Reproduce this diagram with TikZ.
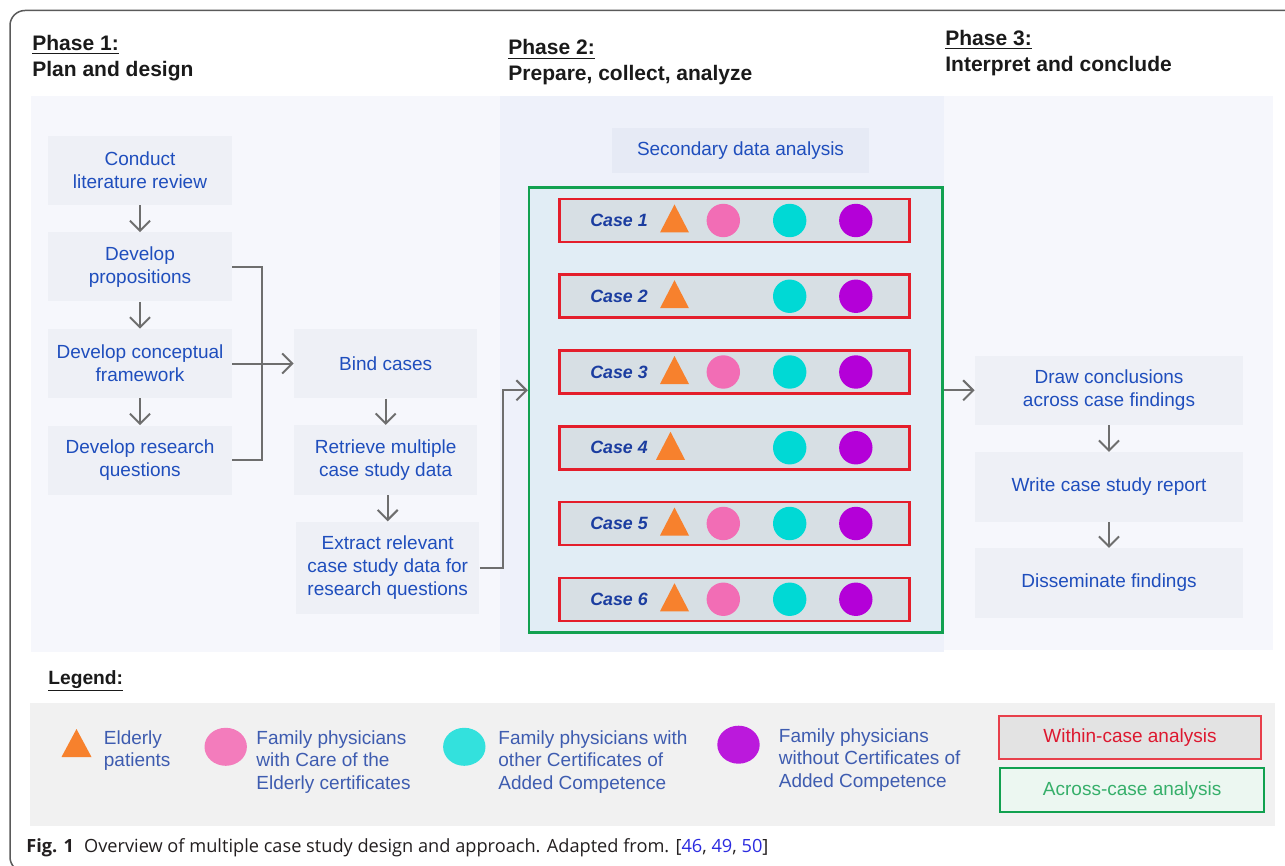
\documentclass[tikz,border=0pt]{standalone}
\usepackage{fontspec}
\setmainfont{Liberation Sans}
\newfontfamily\capfont{Open Sans}
\usetikzlibrary{arrows.meta}

\definecolor{txtblue}{HTML}{1F4EBD}
\definecolor{caseblue}{HTML}{1B3DA0}
\definecolor{legblue}{HTML}{3E5CB0}
\definecolor{headblack}{HTML}{1A1A1A}
\definecolor{framegray}{HTML}{5A5A5A}
\definecolor{arrgray}{HTML}{6E6E6E}
\definecolor{panelA}{HTML}{F6F7FC}
\definecolor{panelB}{HTML}{EEF1FA}
\definecolor{boxgray}{HTML}{EEF0F6}
\definecolor{secgray}{HTML}{E6EAF5}
\definecolor{acrossbg}{HTML}{E1EDF5}
\definecolor{rowgray}{HTML}{D7DFE4}
\definecolor{withinred}{HTML}{E41E2B}
\definecolor{acrossgreen}{HTML}{12A150}
\definecolor{elderly}{HTML}{F7812D}
\definecolor{famcoe}{HTML}{F26DB5}
\definecolor{famcac}{HTML}{00D9D5}
\definecolor{famnone}{HTML}{B400D8}
\definecolor{legbg}{HTML}{F1F1F1}
\definecolor{capgray}{HTML}{231F20}
\definecolor{citeblue}{HTML}{2B2BE0}

\tikzset{
  box/.style={fill=boxgray, text=txtblue, align=center, inner sep=0pt,
    font=\fontsize{9.5}{11.5}\selectfont},
  flow/.style={draw=arrgray, line width=1pt, -{Straight Barb[length=5pt,width=10pt]}},
  link/.style={draw=arrgray, line width=1pt},
  head/.style={anchor=base west, inner sep=0pt, text=headblack,
    font=\fontsize{10.5}{13}\selectfont\bfseries},
  caserow/.style={draw=withinred, fill=rowgray, line width=1.25pt, inner sep=0pt,
    minimum width=175pt, minimum height=21.5pt},
  casetxt/.style={inner sep=0pt, text=caseblue, font=\fontsize{8.9}{10}\selectfont\bfseries\itshape},
  legtext/.style={anchor=west, align=left, inner sep=0pt, text=legblue,
    font=\fontsize{9.5}{11.25}\selectfont},
}

\begin{document}
\begin{tikzpicture}[x=0.5pt, y=-0.5pt]
    \useasboundingbox[fill=white] (0,0) rectangle (1285,866);
    \draw[framegray, line width=0.75pt, rounded corners=7.5pt] (1285,10.5) -- (10,10.5) -- (10,872) -- (200,872);

    % phase panels
    \fill[panelA] (30.5,96) rectangle (500,652);
    \fill[panelB] (500,96) rectangle (944,652);
    \fill[panelA] (944,96) rectangle (1273,650);

    \node[head] (ph1) at (32,50.5) {\underline{Phase 1:}};
    \node[head] (ph1t) at (32,76.5) {Plan and design};
    \node[head] (ph2) at (508,55) {\underline{Phase 2:}};
    \node[head] (ph2t) at (508,81) {Prepare, collect, analyze};
    \node[head] (ph3) at (945,45.5) {\underline{Phase 3:}};
    \node[head] (ph3t) at (945,71.5) {Interpret and conclude};

    % phase 1
    \node[box, minimum width=91.7pt, minimum height=34.5pt] (lit) at (140,170.5) {Conduct\\literature review};
    \node[box, minimum width=91.7pt, minimum height=34.5pt] (prop) at (140,267) {Develop\\propositions};
    \node[box, minimum width=91.7pt, minimum height=34.5pt] (frame) at (140,363.5) {Develop conceptual\\framework};
    \node[box, minimum width=91.7pt, minimum height=34.5pt] (resq) at (140,460) {Develop research\\questions};
    \draw[flow] (lit) -- (prop);
    \draw[flow] (prop) -- (frame);
    \draw[flow] (frame) -- (resq);

    \node[box, minimum width=91.7pt, minimum height=34.7pt] (bind) at (385.7,363.5) {Bind cases};
    \node[box, minimum width=91.7pt, minimum height=34.7pt] (retr) at (385.7,460) {Retrieve multiple\\case study data};
    \node[box, minimum width=91.7pt, minimum height=46.3pt] (extr) at (387.7,568) {Extract relevant\\case study data for\\research questions};
    \draw[flow] (bind) -- (retr);
    \draw[flow] (retr.south -| extr) -- (extr);

    \draw[link] (prop.east) -- ++(30,0) |- (resq.east);
    \draw[flow] (frame) -- (bind);

    % phase 2
    \node[box, fill=secgray, minimum width=128.8pt, minimum height=22.8pt] (sec) at (740.5,150.5) {Secondary data analysis};
    \node[draw=acrossgreen, fill=acrossbg, line width=1.25pt, inner sep=0pt,
      minimum width=206.6pt, minimum height=222.3pt] (across) at (735.7,410) {};

    \foreach \n/\pk/\tx in {1/1/674.5, 2/0/674.5, 3/1/674.5, 4/0/670.5, 5/1/674.5, 6/1/674.5}{
      \pgfmathsetmacro\cy{220.5+75.75*(\n-1)}
      \node[caserow] (case\n) at (734.5,\cy) {};
      \node[casetxt] (case\n txt) at (619,\cy) {Case \n};
      \fill[elderly] (\tx-14.5,\cy+12) -- (\tx+14.5,\cy+12) -- (\tx,\cy-16) -- cycle;
      \ifnum\pk=1 \fill[famcoe] (723.3,\cy) circle (8.35pt); \fi
      \fill[famcac] (789.7,\cy) circle (8.35pt);
      \fill[famnone] (855.8,\cy) circle (8.35pt);
    }

    % phase 3
    \node[box, minimum width=134pt, minimum height=34.75pt] (conc) at (1109,390.3) {Draw conclusions\\across case findings};
    \node[box, minimum width=134pt, minimum height=34.75pt] (rep) at (1109,487) {Write case study report};
    \node[box, minimum width=134pt, minimum height=34.75pt] (diss) at (1109,583) {Disseminate findings};
    \draw[flow] (conc) -- (rep);
    \draw[flow] (rep) -- (diss);

    \draw[flow] (extr.east) -- ++(23,0) |- (across.west |- conc);
    \draw[flow] (across.east |- conc) -- (conc);

    % legend
    \node[head, font=\fontsize{9.6}{11}\selectfont\bfseries] (leg) at (48,684) {\underline{Legend:}};
    \fill[legbg] (30,703) rectangle (1275,826);
    \fill[elderly] (61.5,757) -- (91.5,757) -- (76.5,729) -- cycle;
    \node[legtext] (lgeld) at (103.5,750.5) {Elderly\\patients};
    \fill[famcoe!90!white] (225.7,746.8) ellipse [x radius=10.6pt, y radius=9.5pt];
    \node[legtext] (lgcoe) at (256,761.8) {Family physicians\\with Care of the\\Elderly certificates};
    \fill[famcac!80!white] (464.3,746.8) ellipse [x radius=10.6pt, y radius=9.5pt];
    \node[legtext] (lgcac) at (498,761.8) {Family physicians with\\other Certificates of\\Added Competence};
    \fill[famnone!90!white] (738.5,744.7) ellipse [x radius=10.6pt, y radius=9.5pt];
    \node[legtext] (lgnone) at (778.5,759.7) {Family physicians\\without Certificates of\\Added Competence};
    \node[draw=withinred!85!white, fill=black!11, line width=1pt, text=withinred!80!purple,
      minimum width=131pt, minimum height=21.8pt, inner sep=0pt,
      font=\fontsize{9.5}{11}\selectfont] (within) at (1130,737.5) {Within-case analysis};
    \node[draw=acrossgreen, fill=acrossgreen!8!white, line width=1pt, text=acrossgreen!85!white,
      minimum width=131.75pt, minimum height=22pt, inner sep=0pt,
      font=\fontsize{9.5}{11}\selectfont] (acrossleg) at (1132.2,790.3) {Across-case analysis};

    % caption
    \node[anchor=base west, inner sep=0pt, text=capgray, font=\capfont\fontsize{9.1}{10}\selectfont]
      (cap) at (26,852) {\textbf{Fig. 1}\hspace{0.55em}Overview of multiple case study design and approach. Adapted from. [{\color{citeblue}46}, {\color{citeblue}49}, {\color{citeblue}50}]};
\end{tikzpicture}
\end{document}
